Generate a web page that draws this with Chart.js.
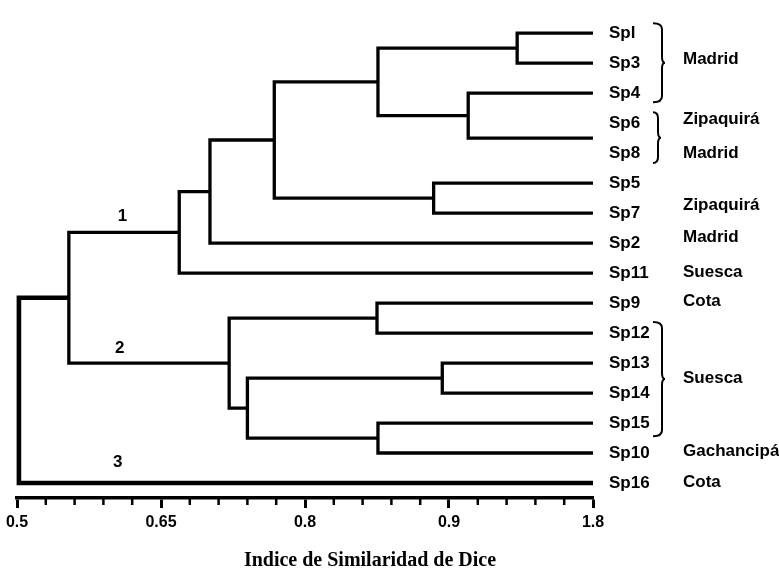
<!DOCTYPE html>
<html>
<head>
<meta charset="utf-8">
<script src="https://cdn.jsdelivr.net/npm/chart.js@4.4.1/dist/chart.umd.min.js"></script>
<style>
body{margin:0;background:#fff;}
#wrap{width:779px;height:573px;}
</style>
</head>
<body>
<div id="wrap"><canvas id="dendro" width="779" height="573"></canvas></div>
<script>
// leaf labels, top to bottom
var leafNames = ['Spl','Sp3','Sp4','Sp6','Sp8','Sp5','Sp7','Sp2','Sp11','Sp9','Sp12','Sp13','Sp14','Sp15','Sp10','Sp16'];
var leafRows = [0,1,2,3,4,5,6,7,8,9,10,11,12,13,14,15];
// rows where the branches end (Sp6 and Sp8 share one branch)
var branchRows = [0,1,2,3.5,5,6,7,8,9,10,11,12,13,14,15];
// merges: [child a, child b, similarity]; child >= 15 means an earlier merge
var merges = [
  [0,1,1.021],   // Spl-Sp3
  [2,3,0.970],   // Sp4-(Sp6,Sp8)
  [15,16,0.876],
  [4,5,0.934],   // Sp5-Sp7
  [17,18,0.768],
  [19,6,0.701],  // + Sp2
  [20,7,0.669],  // + Sp11  (group 1)
  [8,9,0.875],   // Sp9-Sp12
  [10,11,0.943], // Sp13-Sp14
  [12,13,0.876], // Sp15-Sp10
  [23,24,0.740],
  [22,25,0.721], // group 2
  [21,26,0.554],
  [27,14,0.502]  // + Sp16 (group 3)
];
var leafEnd = 1.1;

var locNames = ['Madrid','Zipaquirá','Madrid','Zipaquirá','Madrid','Suesca','Cota','Suesca','Gachancipá','Cota'];
var locRows = [0.88,2.86,4.0,5.75,6.8,7.97,8.95,11.5,13.93,14.97];
var braceRows = [[-0.33,2.3],[2.64,4.33],[9.63,13.44]];

var clusterNames = ['1','2','3'];
var clusterX = [0.610,0.607,0.605];
var clusterRows = [6.1,10.5,14.3];

var tickVals = [0.5,0.65,0.8,0.95,1.1];
var tickLabels = ['0.5','0.65','0.8','0.9','1.8'];
var minorStep = 0.03;

var sans = "'Liberation Sans', Arial, sans-serif";

// build the elbow paths
var nodeX = [], nodeY = [];
branchRows.forEach(function(r){ nodeX.push(leafEnd); nodeY.push(r); });
var datasets = [];
merges.forEach(function(m, i){
  var a = m[0], b = m[1], h = m[2];
  datasets.push({
    data: [{x:nodeX[a],y:nodeY[a]},{x:h,y:nodeY[a]},{x:h,y:nodeY[b]},{x:nodeX[b],y:nodeY[b]}],
    showLine: true,
    borderColor: '#000',
    borderWidth: i == merges.length-1 ? 4.6 : 3.3,
    borderJoinStyle: 'miter',
    pointRadius: 0,
    tension: 0,
    clip: false
  });
  nodeX.push(h);
  nodeY.push((nodeY[a]+nodeY[b])/2);
});

var extras = {
  id: 'extras',
  afterDraw: function(chart){
    var ctx = chart.ctx, xs = chart.scales.x, ys = chart.scales.y;
    ctx.save();
    // minor ticks
    ctx.strokeStyle = '#000';
    ctx.lineWidth = 2.5;
    for (var k = 1; k < 20; k++) {
      if (k % 5 == 0) continue;
      var px = xs.getPixelForValue(0.5 + k*minorStep);
      ctx.beginPath();
      ctx.moveTo(px, xs.top);
      ctx.lineTo(px, xs.top + 7);
      ctx.stroke();
    }
    // group numbers
    ctx.fillStyle = '#000';
    ctx.font = 'bold 17px ' + sans;
    ctx.textAlign = 'center';
    ctx.textBaseline = 'middle';
    clusterNames.forEach(function(t, i){
      ctx.fillText(t, xs.getPixelForValue(clusterX[i]), ys.getPixelForValue(clusterRows[i]));
    });
    // braces
    ctx.lineWidth = 2;
    var bx = ys.left + 60;
    braceRows.forEach(function(br, i){
      var y0 = ys.getPixelForValue(br[0]), y1 = ys.getPixelForValue(br[1]);
      var ym = (y0+y1)/2, w = i == 1 ? 5 : 9, r = 6;
      ctx.beginPath();
      ctx.moveTo(bx, y0);
      ctx.quadraticCurveTo(bx+w, y0, bx+w, y0+r);
      ctx.lineTo(bx+w, ym-r);
      ctx.quadraticCurveTo(bx+w, ym, bx+w+3, ym);
      ctx.quadraticCurveTo(bx+w, ym, bx+w, ym+r);
      ctx.lineTo(bx+w, y1-r);
      ctx.quadraticCurveTo(bx+w, y1, bx, y1);
      ctx.stroke();
    });
    // axis title
    ctx.font = "bold 20px 'Liberation Serif', 'Times New Roman', serif";
    ctx.fillText('Indice de Similaridad de Dice', 370, 561);
    ctx.restore();
  }
};

new Chart(document.getElementById('dendro'), {
  type: 'scatter',
  data: { datasets: datasets },
  options: {
    responsive: false,
    animation: false,
    devicePixelRatio: 1,
    layout: { padding: { left: 17, top: 6.6, right: 0, bottom: 0 } },
    plugins: { legend: { display: false }, tooltip: { enabled: false } },
    scales: {
      x: {
        type: 'linear', position: 'bottom', min: 0.5, max: 1.1,
        afterBuildTicks: function(s){ s.ticks = tickVals.map(function(v){ return {value:v}; }); },
        afterFit: function(s){ s.height = 75; },
        ticks: {
          autoSkip: false, maxRotation: 0, padding: 5, color: '#000',
          font: { family: sans, weight: 'bold', size: 16 },
          callback: function(v, i){ return tickLabels[i]; }
        },
        grid: { drawOnChartArea: false, drawTicks: true, tickLength: 10, tickWidth: 3, tickColor: '#000' },
        border: { display: true, color: '#000', width: 3.5 }
      },
      y: {
        type: 'linear', position: 'right', reverse: true, min: -0.5, max: 15.5, weight: 0,
        afterBuildTicks: function(s){ s.ticks = leafRows.map(function(v){ return {value:v}; }); },
        afterFit: function(s){ s.width = 82; },
        ticks: {
          autoSkip: false, padding: 8, color: '#000',
          font: { family: sans, weight: 'bold', size: 17 },
          callback: function(v, i){ return leafNames[i]; }
        },
        grid: { display: false },
        border: { display: false }
      },
      y2: {
        type: 'linear', position: 'right', reverse: true, min: -0.5, max: 15.5, weight: 1,
        afterBuildTicks: function(s){ s.ticks = locRows.map(function(v){ return {value:v}; }); },
        afterFit: function(s){ s.width = 104; },
        ticks: {
          autoSkip: false, padding: 0, color: '#000',
          font: { family: sans, weight: 'bold', size: 17 },
          callback: function(v, i){ return locNames[i]; }
        },
        grid: { display: false },
        border: { display: false }
      }
    }
  },
  plugins: [extras]
});
</script>
</body>
</html>
